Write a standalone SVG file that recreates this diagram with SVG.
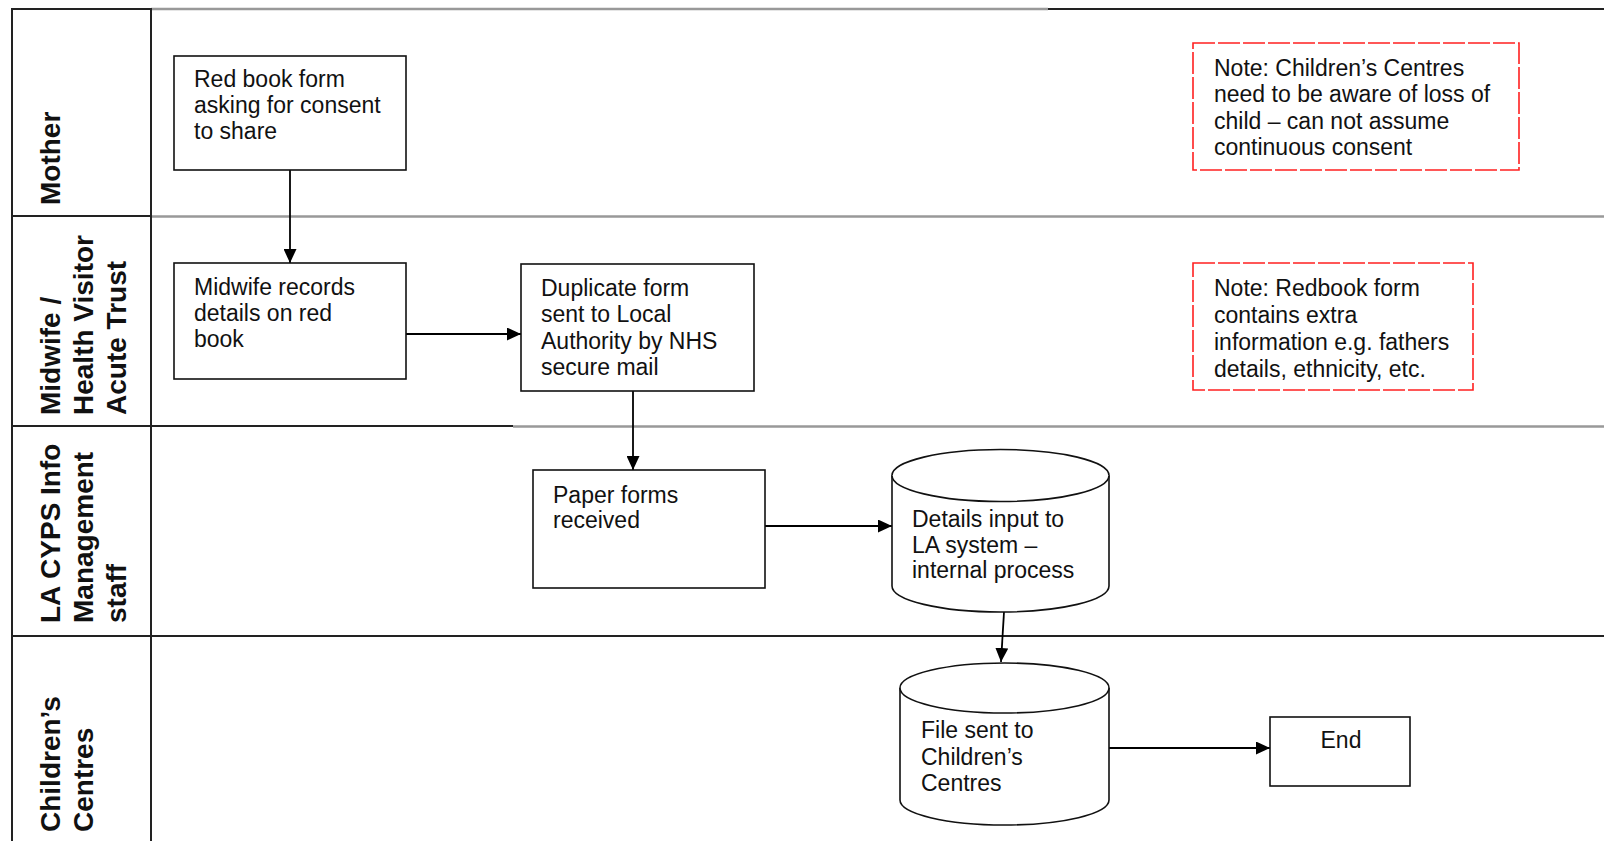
<svg xmlns="http://www.w3.org/2000/svg" width="1604" height="841" viewBox="0 0 1604 841">
<defs>
<marker id="arr" viewBox="0 0 14 13" refX="14" refY="6.5" markerWidth="14" markerHeight="13" markerUnits="userSpaceOnUse" orient="auto">
<path d="M0,0 L14,6.5 L0,13 Z" fill="#000"/>
</marker>
<style>
.t{font-family:"Liberation Sans",Arial,sans-serif;font-size:23px;fill:#111}
.lane{font-family:"Liberation Sans",Arial,sans-serif;font-size:28px;font-weight:bold;fill:#111}
.box{fill:#fff;stroke:#111;stroke-width:1.6}
.note{fill:#fff;stroke:#ff2020;stroke-width:1.6;stroke-dasharray:22 3}
.dk{stroke:#222;stroke-width:2;fill:none}
.gr{stroke:#999;stroke-width:2.5;fill:none}
.conn{stroke:#000;stroke-width:1.8;fill:none;marker-end:url(#arr)}
</style>
</defs>
<rect width="1604" height="841" fill="#fff"/>
<g id="lanes">
<line class="dk" x1="12" y1="9" x2="151" y2="9"/>
<line class="gr" x1="151" y1="9" x2="1048" y2="9"/>
<line class="dk" x1="1048" y1="9" x2="1604" y2="9"/>
<line class="dk" x1="12" y1="216" x2="151" y2="216"/>
<line class="gr" x1="151" y1="216.5" x2="1604" y2="216.5"/>
<line class="dk" x1="12" y1="426" x2="513" y2="426"/>
<line class="gr" x1="513" y1="426.5" x2="1604" y2="426.5"/>
<line class="dk" x1="12" y1="636" x2="1604" y2="636"/>
<line class="dk" x1="12" y1="8" x2="12" y2="841"/>
<line class="dk" x1="151" y1="8" x2="151" y2="841"/>
<text class="lane" transform="translate(60,205) rotate(-90)">Mother</text>
<text class="lane" transform="translate(60,415) rotate(-90)">Midwife /</text>
<text class="lane" transform="translate(93,415) rotate(-90)">Health Visitor</text>
<text class="lane" transform="translate(126,415) rotate(-90)">Acute Trust</text>
<text class="lane" transform="translate(60,623) rotate(-90)">LA CYPS Info</text>
<text class="lane" transform="translate(93,623) rotate(-90)">Management</text>
<text class="lane" transform="translate(126,623) rotate(-90)">staff</text>
<text class="lane" transform="translate(60,832) rotate(-90)">Children’s</text>
<text class="lane" transform="translate(93,832) rotate(-90)">Centres</text>
</g>
<g id="connectors">
<line class="conn" x1="290" y1="170" x2="290" y2="263"/>
<line class="conn" x1="406" y1="334" x2="521" y2="334"/>
<line class="conn" x1="633" y1="391" x2="633" y2="470"/>
<line class="conn" x1="765" y1="526" x2="892" y2="526"/>
<line class="conn" x1="1004" y1="612" x2="1001" y2="662"/>
<line class="conn" x1="1109" y1="748" x2="1270" y2="748"/>
</g>
<g id="redbook">
<rect class="box" x="174" y="56" width="232" height="114"/>
<text class="t" x="194" y="87">Red book form</text>
<text class="t" x="194" y="113">asking for consent</text>
<text class="t" x="194" y="139">to share</text>
</g>
<g id="midwife">
<rect class="box" x="174" y="263" width="232" height="116"/>
<text class="t" x="194" y="295">Midwife records</text>
<text class="t" x="194" y="321">details on red</text>
<text class="t" x="194" y="347">book</text>
</g>
<g id="duplicate">
<rect class="box" x="521" y="264" width="233" height="127"/>
<text class="t" x="541" y="296">Duplicate form</text>
<text class="t" x="541" y="322">sent to Local</text>
<text class="t" x="541" y="349">Authority by NHS</text>
<text class="t" x="541" y="375">secure mail</text>
</g>
<g id="paper">
<rect class="box" x="533" y="470" width="232" height="118"/>
<text class="t" x="553" y="503">Paper forms</text>
<text class="t" x="553" y="528">received</text>
</g>
<g id="details">
<path class="box" d="M892,475.5 A108.5,26 0 0 1 1109,475.5 L1109,586 A108.5,26 0 0 1 892,586 Z"/>
<path class="box" fill="none" d="M892,475.5 A108.5,26 0 0 0 1109,475.5"/>
<text class="t" x="912" y="527">Details input to</text>
<text class="t" x="912" y="553">LA system –</text>
<text class="t" x="912" y="578">internal process</text>
</g>
<g id="filesent">
<path class="box" d="M900,688 A104.5,25 0 0 1 1109,688 L1109,800 A104.5,25 0 0 1 900,800 Z"/>
<path class="box" fill="none" d="M900,688 A104.5,25 0 0 0 1109,688"/>
<text class="t" x="921" y="738">File sent to</text>
<text class="t" x="921" y="765">Children’s</text>
<text class="t" x="921" y="791">Centres</text>
</g>
<g id="end">
<rect class="box" x="1270" y="717" width="140" height="69"/>
<text class="t" x="1341" y="748" text-anchor="middle">End</text>
</g>
<g id="note1">
<rect class="note" x="1193" y="43" width="326" height="127"/>
<text class="t" x="1214" y="76">Note: Children’s Centres</text>
<text class="t" x="1214" y="102">need to be aware of loss of</text>
<text class="t" x="1214" y="129">child – can not assume</text>
<text class="t" x="1214" y="155">continuous consent</text>
</g>
<g id="note2">
<rect class="note" x="1193" y="263" width="280" height="127"/>
<text class="t" x="1214" y="296">Note: Redbook form</text>
<text class="t" x="1214" y="323">contains extra</text>
<text class="t" x="1214" y="350">information e.g. fathers</text>
<text class="t" x="1214" y="377">details, ethnicity, etc.</text>
</g>
</svg>
